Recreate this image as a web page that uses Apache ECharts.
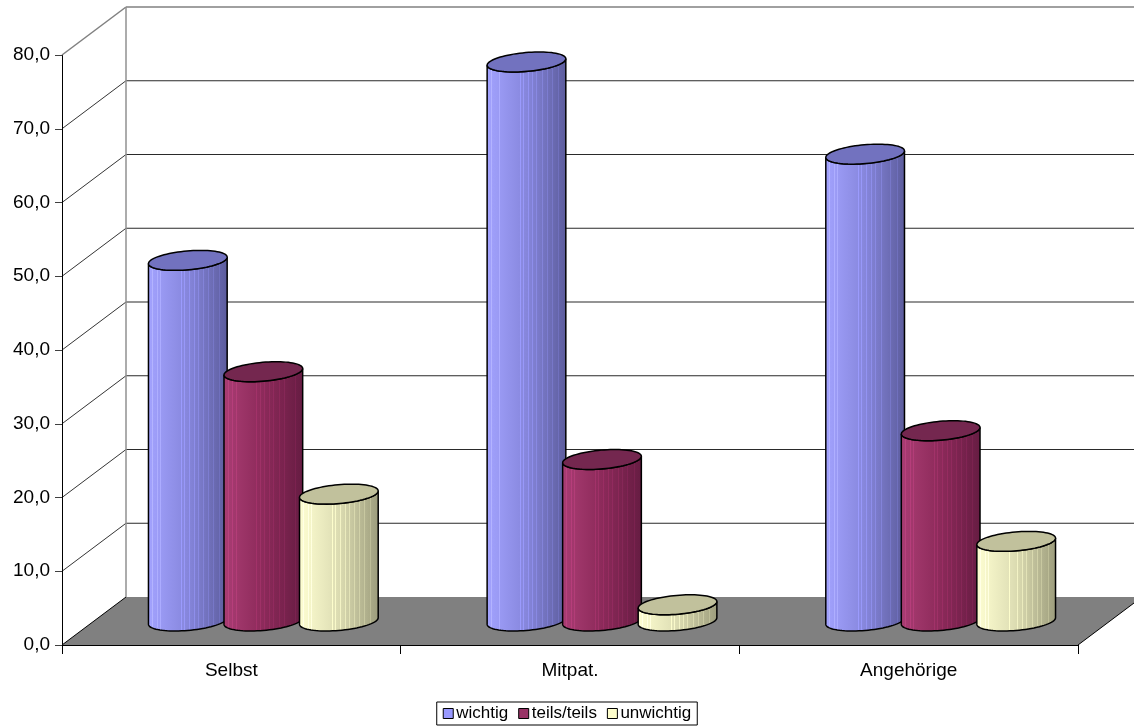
<!DOCTYPE html>
<html>
<head>
<meta charset="utf-8">
<title>Bewertung</title>
<script src="https://cdn.jsdelivr.net/npm/echarts@6/dist/echarts.min.js"></script>
<style>
  html, body { margin: 0; padding: 0; background: #fff; }
  #chart { width: 1134px; height: 727px; }
</style>
</head>
<body>
<div id="chart"></div>
<script>
// Kategorien und Anteile (Prozent) je Antwort
const categories = ['Selbst', 'Mitpat.', 'Angehörige'];
const wichtig = [48.9, 75.8, 63.3];
const teilsTeils = [33.8, 21.9, 25.8];
const unwichtig = [17.2, 2.2, 10.8];
const seriesNames = ['wichtig', 'teils/teils', 'unwichtig'];
const yTicks = [0, 10, 20, 30, 40, 50, 60, 70, 80];

// Perspektive: Versatz der Rückwand gegenüber der Vorderkante
const DEPTH_X = 64;
const DEPTH_Y = 48;
const FONT = '"Liberation Sans", Arial, sans-serif';

const palette = [
  { light: '#a3a3ff', mid: '#8686dc', dark: '#5c5c9c', top: '#7272bf', legend: '#9999ff' },
  { light: '#aa3d74', mid: '#8c2a5a', dark: '#661c42', top: '#74274f', legend: '#993366' },
  { light: '#ffffd2', mid: '#dcdcb2', dark: '#9c9c7c', top: '#c1c19c', legend: '#ffffcc' }
];

// Mantelverlauf mit feinen hellen Längsstreifen
function sideGradient(c) {
  const stripes = [0.06, 0.12, 0.16, 0.42, 0.46, 0.52, 0.58, 0.63, 0.7, 0.76, 0.82, 0.9];
  const stops = [];
  const mix = (a, b, t) => {
    const pa = echarts.color.parse(a), pb = echarts.color.parse(b);
    return 'rgb(' + [0, 1, 2].map(i => Math.round(pa[i] + (pb[i] - pa[i]) * t)).join(',') + ')';
  };
  const baseAt = t => t < 0.5 ? mix(c.light, c.mid, t / 0.5) : mix(c.mid, c.dark, (t - 0.5) / 0.5);
  stops.push({ offset: 0, color: baseAt(0) });
  stripes.forEach(s => {
    const w = 0.006;
    stops.push({ offset: s - w, color: baseAt(s - w) });
    stops.push({ offset: s - w, color: echarts.color.lift(baseAt(s), -0.12) });
    stops.push({ offset: s + w, color: echarts.color.lift(baseAt(s), -0.12) });
    stops.push({ offset: s + w, color: baseAt(s + w) });
  });
  stops.push({ offset: 1, color: baseAt(1) });
  return new echarts.graphic.LinearGradient(0, 0, 1, 0, stops);
}

const RY = 9.4;
const PHI = -5 * Math.PI / 180;

function ellipsePoint(cx, cy, rx, ry, t) {
  const c = Math.cos(PHI), s = Math.sin(PHI);
  return [
    cx + rx * Math.cos(t) * c - ry * Math.sin(t) * s,
    cy + rx * Math.cos(t) * s + ry * Math.sin(t) * c
  ];
}

function arc(cx, cy, rx, ry, t1, t2, n) {
  const pts = [];
  for (let k = 0; k <= n; k++) pts.push(ellipsePoint(cx, cy, rx, ry, t1 + (t2 - t1) * k / n));
  return pts;
}

function cylinderRenderer(sIdx) {
  const c = palette[sIdx];
  const fill = sideGradient(c);
  return function (params, api) {
    const cat = api.value(0);
    const val = api.value(1);
    const band = api.size([1, 0])[0];
    const base = api.coord([cat, 0]);
    const top = api.coord([cat, val]);
    const cx = base[0] + DEPTH_X / 2 + (sIdx - 1) * band * 0.223;
    const yb = base[1] - DEPTH_Y / 2;
    const yt = top[1] - DEPTH_Y / 2;
    const rx = band * 0.1166;
    const t0 = Math.atan(-RY * Math.tan(PHI) / rx);
    const bottomArc = arc(cx, yb, rx, RY, t0 + Math.PI, t0, 40);
    const topFront = arc(cx, yt, rx, RY, t0, t0 + Math.PI, 40);
    const body = bottomArc.concat(topFront);
    const lid = arc(cx, yt, rx, RY, 0, Math.PI * 2, 80);
    return {
      type: 'group',
      children: [
        { type: 'polygon', shape: { points: body },
          style: { fill: fill, stroke: '#000', lineWidth: 1.5 } },
        { type: 'polygon', shape: { points: lid },
          style: { fill: c.top, stroke: '#000', lineWidth: 1.5 } }
      ]
    };
  };
}

// Rückwand, Seitenwand und Boden
function wallRenderer(params, api) {
  const cs = params.coordSys;
  const x0 = cs.x, x1 = cs.x + cs.width;
  const y0 = api.coord([0, 0])[1];
  const children = [];
  children.push({
    type: 'polygon',
    shape: { points: [[x0, y0], [x1, y0], [x1 + DEPTH_X, y0 - DEPTH_Y], [x0 + DEPTH_X, y0 - DEPTH_Y]] },
    style: { fill: '#808080', stroke: null }
  });
  children.push({ type: 'line', shape: { x1: x0, y1: y0, x2: x0 + DEPTH_X, y2: y0 - DEPTH_Y },
    style: { stroke: '#000', lineWidth: 1 } });
  children.push({ type: 'line', shape: { x1: x1, y1: y0, x2: x1 + DEPTH_X, y2: y0 - DEPTH_Y },
    style: { stroke: '#000', lineWidth: 1 } });
  const yTop = api.coord([0, yTicks[yTicks.length - 1]])[1];
  yTicks.forEach((t, i) => {
    if (i === 0) return;
    const y = api.coord([0, t])[1];
    const isTop = i === yTicks.length - 1;
    children.push({ type: 'line',
      shape: { x1: x0 + DEPTH_X, y1: y - DEPTH_Y, x2: x1 + DEPTH_X, y2: y - DEPTH_Y },
      style: { stroke: isTop ? '#808080' : '#2a2a2a', lineWidth: isTop ? 1.5 : 1.1 } });
    children.push({ type: 'line',
      shape: { x1: x0, y1: y, x2: x0 + DEPTH_X, y2: y - DEPTH_Y },
      style: { stroke: isTop ? '#808080' : '#000', lineWidth: isTop ? 1.5 : 0.8 } });
  });
  children.push({ type: 'line',
    shape: { x1: x0 + DEPTH_X, y1: yTop - DEPTH_Y, x2: x0 + DEPTH_X, y2: y0 - DEPTH_Y },
    style: { stroke: '#909090', lineWidth: 1.5 } });
  return { type: 'group', children: children };
}

const valueSets = [wichtig, teilsTeils, unwichtig];

const chart = echarts.init(document.getElementById('chart'), null, { renderer: 'canvas' });
chart.setOption({
  animation: false,
  backgroundColor: '#fff',
  grid: { left: 62, right: 56, top: 55, bottom: 82, containLabel: false },
  xAxis: {
    type: 'category',
    data: categories,
    boundaryGap: true,
    axisLine: { show: true, lineStyle: { color: '#000', width: 1 } },
    axisTick: { show: true, length: 9, lineStyle: { color: '#000' } },
    axisLabel: { color: '#000', fontSize: 19, fontFamily: FONT, margin: 16 },
    splitLine: { show: false }
  },
  yAxis: {
    type: 'value',
    min: 0,
    max: 80,
    interval: 10,
    axisLine: { show: true, lineStyle: { color: '#000', width: 1 } },
    axisTick: { show: true, inside: false, length: 7, lineStyle: { color: '#404040' } },
    axisLabel: {
      color: '#000', fontSize: 19, fontFamily: FONT, margin: 12,
      formatter: v => v.toFixed(1).replace('.', ',')
    },
    splitLine: { show: false }
  },
  legend: {
    data: seriesNames,
    top: 702,
    left: 'center',
    orient: 'horizontal',
    backgroundColor: '#fff',
    borderColor: '#000',
    borderWidth: 1,
    padding: [3, 6, 3, 6],
    itemWidth: 10,
    itemHeight: 10,
    itemGap: 10,
    icon: 'rect',
    itemStyle: { borderColor: '#000', borderWidth: 1 },
    textStyle: { color: '#000', fontSize: 17, fontFamily: FONT, padding: [0, 0, 0, -2] },
    selectedMode: false
  },
  series: [
    {
      type: 'custom',
      name: 'wall',
      z: 1,
      clip: false,
      silent: true,
      data: [[0, 0]],
      renderItem: wallRenderer
    }
  ].concat(seriesNames.map((name, s) => ({
    type: 'custom',
    name: name,
    z: 2 + s,
    clip: false,
    itemStyle: { color: palette[s].legend },
    data: valueSets[s].map((v, i) => [i, v]),
    encode: { x: 0, y: 1 },
    renderItem: cylinderRenderer(s)
  })))
});
</script>
</body>
</html>
